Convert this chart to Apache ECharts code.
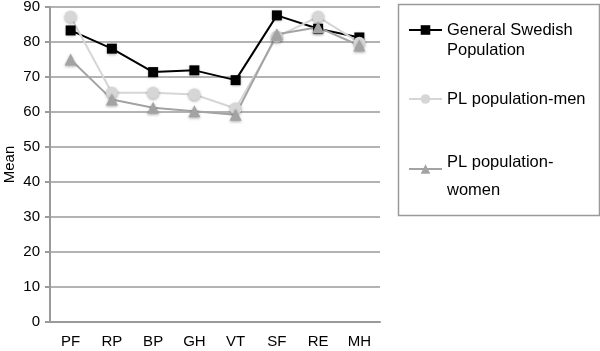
<!DOCTYPE html>
<html>
<head>
<meta charset="utf-8">
<script src="https://cdn.jsdelivr.net/npm/echarts@6/dist/echarts.min.js"></script>
<style>
  html, body { margin: 0; padding: 0; background: #fff; }
  #chart { width: 600px; height: 351px; }
</style>
</head>
<body>
<div id="chart"></div>
<script>
const categories = ['PF', 'RP', 'BP', 'GH', 'VT', 'SF', 'RE', 'MH'];
const swedish = [83.3, 78.1, 71.4, 71.9, 69.1, 87.6, 83.8, 81.3];
const plMen = [87.2, 65.5, 65.5, 65.0, 61.0, 81.5, 87.2, 79.8];
const plWomen = [75.0, 63.6, 61.2, 60.2, 59.2, 82.2, 84.2, 79.0];
const yTicks = { min: 0, max: 90, interval: 10 };

const font = 'Liberation Sans, Arial, sans-serif';
const gridGray = '#9a9a9a';
const shadow = { shadowBlur: 3, shadowColor: 'rgba(0,0,0,0.35)', shadowOffsetY: 1 };

const chart = echarts.init(document.getElementById('chart'));

// one legend per entry; a blank first row pushes wrapped labels down so the
// symbol lines up with the first line, like the original
function legendAt(top, name, formatter, gapHeight, lineHeight) {
  const txt = { fontFamily: font, fontSize: 16.5, color: '#000', lineHeight: lineHeight };
  return {
    left: 408, top: top, padding: 0, itemWidth: 33, itemHeight: 12,
    selectedMode: false, data: [name],
    formatter: formatter,
    textStyle: Object.assign({}, txt, {
      rich: { s: { fontSize: 4, lineHeight: gapHeight }, t: txt }
    })
  };
}

chart.setOption({
  animation: false,
  textStyle: { fontFamily: font },
  grid: { left: 50, top: 7, right: 220, bottom: 29, outerBoundsMode: 'none' },
  xAxis: {
    type: 'category', data: categories, boundaryGap: true,
    axisLine: { lineStyle: { color: gridGray, width: 2 } },
    axisTick: { length: 5, lineStyle: { color: gridGray, width: 2 } },
    axisLabel: { fontSize: 15, color: '#000', margin: 12, fontFamily: font }
  },
  yAxis: {
    type: 'value', min: yTicks.min, max: yTicks.max, interval: yTicks.interval,
    name: 'Mean', nameLocation: 'middle', nameGap: 33, nameMoveOverlap: false,
    nameTextStyle: { fontSize: 15, color: '#000', fontFamily: font },
    axisLine: { show: true, lineStyle: { color: gridGray, width: 2 } },
    axisTick: { show: true, length: 5, lineStyle: { color: gridGray, width: 2 } },
    axisLabel: { fontSize: 15, color: '#000', margin: 10, fontFamily: font },
    splitLine: { lineStyle: { color: gridGray, width: 1.5 } }
  },
  legend: [
    legendAt(0, 'General Swedish Population',
      () => '{s| }\n{t|General Swedish}\n{t|Population}', 20, 20),
    legendAt(89, 'PL population-men', null, 20, 20),
    legendAt(134, 'PL population-women',
      () => '{s| }\n{t|PL population-}\n{t|women}', 14, 28)
  ],
  graphic: [{
    type: 'rect', left: 396, top: 2, z: -1,
    shape: { width: 201, height: 211 },
    style: { fill: 'none', stroke: gridGray, lineWidth: 1.5 }
  }],
  series: [
    {
      name: 'General Swedish Population', type: 'line', data: swedish,
      symbol: 'rect', symbolSize: 10,
      lineStyle: { color: '#000', width: 2 },
      itemStyle: Object.assign({ color: '#000' }, shadow)
    },
    {
      name: 'PL population-men', type: 'line', data: plMen,
      symbol: 'circle', symbolSize: 12,
      lineStyle: { color: '#d6d6d6', width: 2 },
      itemStyle: Object.assign({ color: '#d6d6d6' }, shadow)
    },
    {
      name: 'PL population-women', type: 'line', data: plWomen,
      symbol: 'triangle', symbolSize: 12,
      lineStyle: { color: '#a3a3a3', width: 2 },
      itemStyle: Object.assign({ color: '#a3a3a3' }, shadow)
    }
  ]
});
</script>
</body>
</html>
